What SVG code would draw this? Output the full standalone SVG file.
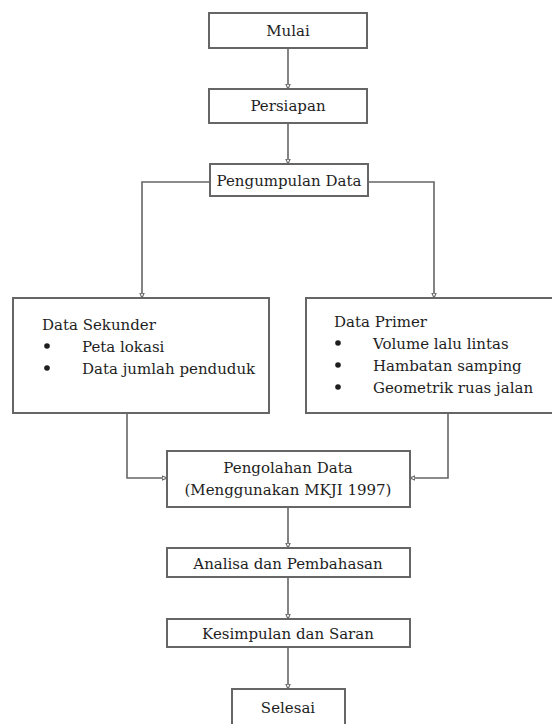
<svg xmlns="http://www.w3.org/2000/svg" width="552" height="724" viewBox="0 0 552 724">
<defs>
<style>
.box{fill:#fff;stroke:#666;stroke-width:2}
.ln{fill:none;stroke:#666;stroke-width:1.6}
.t{font-family:'DejaVu Serif',serif;font-size:15px;fill:#1e1e1e}
.c{text-anchor:middle}
</style>
<marker id="ah" viewBox="0 0 10 10" refX="9" refY="5" markerWidth="6" markerHeight="6" orient="auto" markerUnits="userSpaceOnUse">
<path d="M1,1.5 L9,5 L1,8.5 Z" fill="#fff" stroke="#666" stroke-width="1.8"/>
</marker>
</defs>
<rect width="552" height="724" fill="#fff"/>
<g id="connectors">
<path class="ln" d="M288,48 V89" marker-end="url(#ah)"/>
<path class="ln" d="M288,123 V164" marker-end="url(#ah)"/>
<path class="ln" d="M210,182 H142 V298" marker-end="url(#ah)"/>
<path class="ln" d="M368,182 H434 V298" marker-end="url(#ah)"/>
<path class="ln" d="M127,413 V478 H167" marker-end="url(#ah)"/>
<path class="ln" d="M448,413 V478 H410" marker-end="url(#ah)"/>
<path class="ln" d="M288,507 V548" marker-end="url(#ah)"/>
<path class="ln" d="M288,577 V619" marker-end="url(#ah)"/>
<path class="ln" d="M288,647 V689" marker-end="url(#ah)"/>
</g>
<g class="t">
<g id="mulai">
<rect class="box" x="209" y="13" width="158" height="35"/>
<text class="c" x="288" y="36">Mulai</text>
</g>
<g id="persiapan">
<rect class="box" x="209" y="89" width="158" height="34"/>
<text class="c" x="288" y="111">Persiapan</text>
</g>
<g id="pengumpulan">
<rect class="box" x="210" y="164" width="158" height="32"/>
<text class="c" x="289" y="186">Pengumpulan Data</text>
</g>
<g id="sekunder">
<rect class="box" x="13" y="298" width="256" height="115"/>
<text x="42" y="330">Data Sekunder</text>
<circle cx="47" cy="346" r="2.8" fill="#1e1e1e"/>
<text x="82" y="352">Peta lokasi</text>
<circle cx="47" cy="368" r="2.8" fill="#1e1e1e"/>
<text x="82" y="374">Data jumlah penduduk</text>
</g>
<g id="primer">
<rect class="box" x="306" y="298" width="252" height="115"/>
<text x="334" y="327">Data Primer</text>
<circle cx="338" cy="343" r="2.8" fill="#1e1e1e"/>
<text x="373" y="349">Volume lalu lintas</text>
<circle cx="338" cy="365" r="2.8" fill="#1e1e1e"/>
<text x="373" y="371">Hambatan samping</text>
<circle cx="338" cy="387" r="2.8" fill="#1e1e1e"/>
<text x="373" y="393">Geometrik ruas jalan</text>
</g>
<g id="pengolahan">
<rect class="box" x="167" y="451" width="243" height="56"/>
<text class="c" x="288" y="473">Pengolahan Data</text>
<text class="c" x="288" y="495">(Menggunakan MKJI 1997)</text>
</g>
<g id="analisa">
<rect class="box" x="167" y="548" width="243" height="29"/>
<text class="c" x="288" y="569">Analisa dan Pembahasan</text>
</g>
<g id="kesimpulan">
<rect class="box" x="167" y="619" width="243" height="28"/>
<text class="c" x="288" y="639">Kesimpulan dan Saran</text>
</g>
<g id="selesai">
<rect class="box" x="232" y="689" width="113" height="45"/>
<text class="c" x="288" y="713">Selesai</text>
</g>
</g>
</svg>
